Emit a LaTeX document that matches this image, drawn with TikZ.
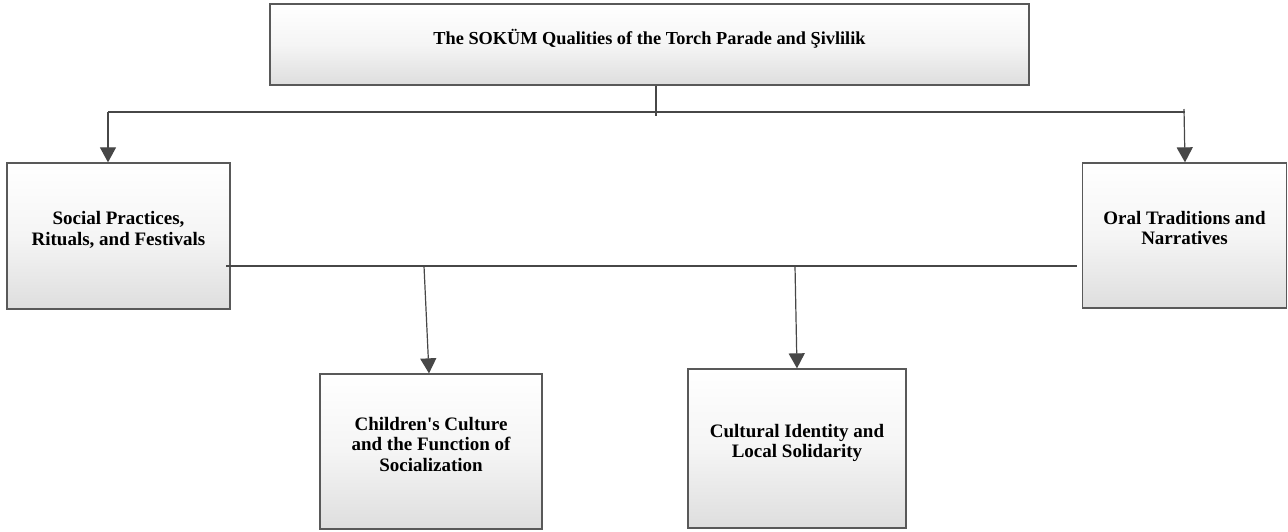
\documentclass[tikz,border=0pt]{standalone}
\usepackage{fontspec}
\setmainfont{Liberation Serif}
\usetikzlibrary{arrows.meta}
\newcommand{\boxtext}[1]{\raisebox{5pt}[\height][\depth]{\begin{tabular}{@{}c@{}}#1\end{tabular}}}
\tikzset{
  box/.style={draw=black!65, line width=1.3pt, top color=white, bottom color=black!13, middle color=white!96!black,
    align=center, font=\bfseries\fontsize{19}{20.5}\selectfont, inner sep=0pt},
  conn/.style={draw=black!72, line width=1.2pt},
  arr/.style={conn, -{Triangle[width=16pt,length=15pt]}}
}
\begin{document}
\begin{tikzpicture}[x=1pt,y=-1pt]
\useasboundingbox (0,0) rectangle (1288,531);
\node[box, font=\bfseries\fontsize{18.3}{20}\selectfont, minimum width=759pt, minimum height=81pt] (T) at (649.5,44.5) {\boxtext{The SOKÜM Qualities of the Torch Parade and Şivlilik}};
\node[box, minimum width=223pt, minimum height=146pt] (S) at (118.5,236) {\boxtext{Social Practices,\\Rituals, and Festivals}};
\node[box, minimum width=204pt, minimum height=145pt] (O) at (1184.5,235.5) {\boxtext{Oral Traditions and\\Narratives}};
\node[box, minimum width=222pt, minimum height=155pt] (C) at (431,451.5) {\boxtext{Children\textquotesingle s Culture\\and the Function of\\Socialization}};
\node[box, minimum width=218pt, minimum height=159pt] (K) at (797,448.5) {\boxtext{Cultural Identity and\\Local Solidarity}};
\coordinate (tb) at (656,116);
\coordinate (hl) at (108,112);
\coordinate (hr) at (1185,112);
\coordinate (hrt) at (1184,109);
\coordinate (ml) at (226,266);
\coordinate (mr) at (1077,266);
\coordinate (mc) at (424,266);
\coordinate (mk) at (795,266);
\draw[conn] (T.south -| tb) -- (tb);
\draw[conn] (hl) -- (hr);
\draw[arr] (hl) -- (S.north -| hl);
\draw[arr] (hrt) -- (O.north -| hr);
\draw[conn] (ml) -- (mr);
\draw[arr] (mc) -- ([xshift=-2pt]C.north);
\draw[arr] (mk) -- (K.north);
\end{tikzpicture}
\end{document}
